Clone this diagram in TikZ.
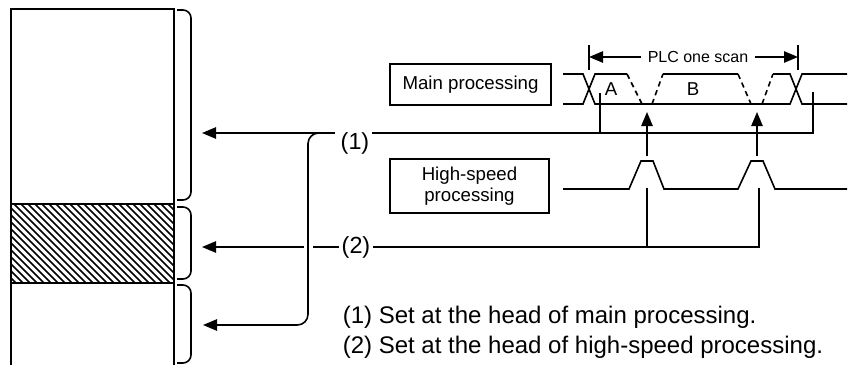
\documentclass[tikz,border=0pt]{standalone}
\usepackage{fontspec}
\setmainfont{Liberation Sans}
\usetikzlibrary{arrows.meta,positioning}

\begin{document}
\begin{tikzpicture}[x=0.75pt,y=-0.75pt,line width=1.2pt,
box/.style={draw,align=center,inner sep=2pt,font=\fontsize{14}{16}\selectfont},
lbl/.style={inner sep=1.5pt,font=\fontsize{17.5}{20}\selectfont},
arr/.style={-{Triangle[length=10.5pt,width=8.5pt]}},
brace/.style={rounded corners=6pt},
dsig/.style={dash pattern=on 4pt off 3pt}]
\useasboundingbox (0,0) rectangle (849,365);
% memory area
\draw (11,365) -- (11,9) -- (174,9) -- (174,365);
\draw (11,204) -- (174,204);
\draw (11,283) -- (174,283);
\begin{scope}
\clip (11,204) rectangle (174,283);
\foreach \i in {-70,-63,...,175}
  \draw[line width=1.1pt] (\i,204) -- ++(79,79);
\end{scope}
\draw[brace] (177,10) -- (191,10) -- (191,200) -- (177,200);
\draw[brace] (177,207) -- (191,207) -- (191,279) -- (177,279);
\draw[brace] (177,285) -- (191,285) -- (191,363) -- (177,363);
% boxes and labels
\node[box,minimum width=120.75pt,minimum height=30.75pt] (main) at (470.5,84.5) {Main processing};
\node[box,minimum width=119pt,minimum height=40.5pt] (high) at (469.5,186) {High-speed\\processing};
\node[lbl] (n1) at (355,143) {(1)};
\node[lbl] (n2) at (356,247) {(2)};
\node[font=\fontsize{14}{16}\selectfont] (secA) at (611,89) {A};
\node[font=\fontsize{14}{16}\selectfont] (secB) at (693,89) {B};
\node[font=\fontsize{12}{14}\selectfont,inner sep=4.5pt] (scan) at (698,57) {PLC one scan};
\node[anchor=west,align=left,inner sep=0pt,font=\fontsize{18}{22.5}\selectfont] (note) at (342,332)
  {(1) Set at the head of main processing.\\(2) Set at the head of high-speed processing.};
% end points
\coordinate (tip1) at (202,133);
\coordinate (tip2) at (202,247);
\coordinate (tip3) at (203,325);
\coordinate (end1) at (813,133);
\coordinate (end2) at (759,247);
% setting lines
\draw[arr] (335,133) -- (tip1);
\draw (372,133) -- (end1) -- (813,92);
\draw (600,133) -- (600,93);
\draw[arr,rounded corners=8pt] (322,133) -- (308,133) -- (308,325) -- (tip3);
\draw[arr] (304,247) -- (tip2);
\draw (313,247) -- (n2.west);
\draw (n2.east) -- (end2) -- (759,188);
\draw (647,247) -- (647,188);
% main processing timing
\draw (563,74) -- (583,74) -- (595,104) -- (790,104) -- (802,74) -- (847,74);
\draw (563,104) -- (583,104) -- (595,74) -- (627,74);
\draw[dsig] (627,74) -- (642,104);
\draw[dsig] (652,104) -- (663,74);
\draw (663,74) -- (738,74);
\draw[dsig] (738,74) -- (751,104);
\draw[dsig] (762,104) -- (773,74);
\draw (773,74) -- (790,74) -- (802,104) -- (847,104);
% one scan
\draw (589,45) -- (589,70);
\draw (798,45) -- (798,70);
\draw[arr] (scan.west) -- (589,57);
\draw[arr] (scan.east) -- (798,57);
% high-speed timing
\draw (563,189) -- (629,189) -- (641,161) -- (653,161) -- (664,189) -- (738,189)
  -- (751,161) -- (763,161) -- (775,189) -- (847,189);
\draw[arr] (647,156) -- (647,112);
\draw[arr] (757,156) -- (757,112);
\end{tikzpicture}
\end{document}
